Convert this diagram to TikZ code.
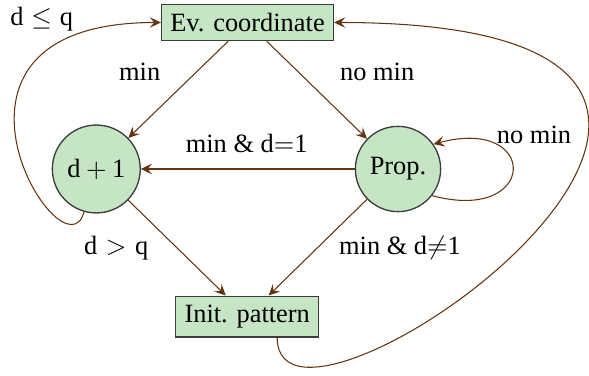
\documentclass[tikz,border=0pt]{standalone}
\usepackage{fontspec}
\setmainfont{Liberation Serif}
\usetikzlibrary{arrows.meta,shapes.geometric}

\definecolor{statefill}{RGB}{197,229,197}
\definecolor{stateline}{RGB}{60,60,60}
\definecolor{flow}{RGB}{100,52,14}

\tikzset{
  statebox/.style={rectangle, draw=stateline, fill=statefill, line width=0.5pt,
    inner sep=3.33pt, font=\fontsize{10}{12}\selectfont},
  statecirc/.style={circle, draw=stateline, fill=statefill, line width=0.5pt,
    inner sep=1pt, font=\fontsize{10}{12}\selectfont},
  flowedge/.style={draw=flow, line width=0.4pt,
    -{Stealth[length=4.2pt, width=4pt, inset=1.7pt]}},
  flowlabel/.style={anchor=base, inner sep=0pt, font=\fontsize{10}{12}\selectfont}
}

\begin{document}
\begin{tikzpicture}[x=0.3788pt, y=0.3788pt]
  \useasboundingbox (0,0) rectangle (589,375);

  % states
  \node[statebox] (ev) at (247.5,352.5) {Ev. coordinate};
  \node[statecirc, minimum size=33.3pt] (d1) at (96.3,206) {d\hspace{2.1pt}$+$\hspace{2.1pt}1};
  \node[statecirc, minimum size=32.3pt] (prop) at (398,206) {Prop.};
  \node[statebox] (init) at (247.2,58.5) {Init. pattern};

  % straight transitions
  \draw[flowedge] (ev) -- (d1);
  \draw[flowedge] (ev) -- (prop);
  \draw[flowedge] (prop) -- (d1);
  \draw[flowedge] (d1) -- (init);
  \draw[flowedge] (prop) -- (init);

  % self loop on Prop.
  \draw[flowedge] (prop.-38) to[out=-15, in=15, out distance=41.7pt, in distance=41.7pt] (prop.35);

  % long returns to Ev. coordinate
  \draw[flowedge] (d1.-106) to[out=-105, in=180, out distance=28.4pt, in distance=98.5pt] (ev.west);
  \draw[flowedge] (init.-35) to[out=-90, in=0, out distance=56.8pt, in distance=227.3pt] (ev.east);

  % transition labels
  \node[flowlabel] (lmin) at (139.7,294) {min};
  \node[flowlabel] (lnomin) at (377.2,294) {no min};
  \node[flowlabel] (lmineq) at (246.7,222.7) {min \& d$=$1};
  \node[flowlabel] (lloop) at (534,231) {no min};
  \node[flowlabel] (lgt) at (116.2,121) {d\hspace{3.3pt}$>$\hspace{3.3pt}q};
  \node[flowlabel] (lminne) at (400,121) {min \& d$\neq$1};
  \node[flowlabel] (lle) at (41.7,349) {d\hspace{3pt}$\leq$\hspace{3pt}q};
\end{tikzpicture}
\end{document}
